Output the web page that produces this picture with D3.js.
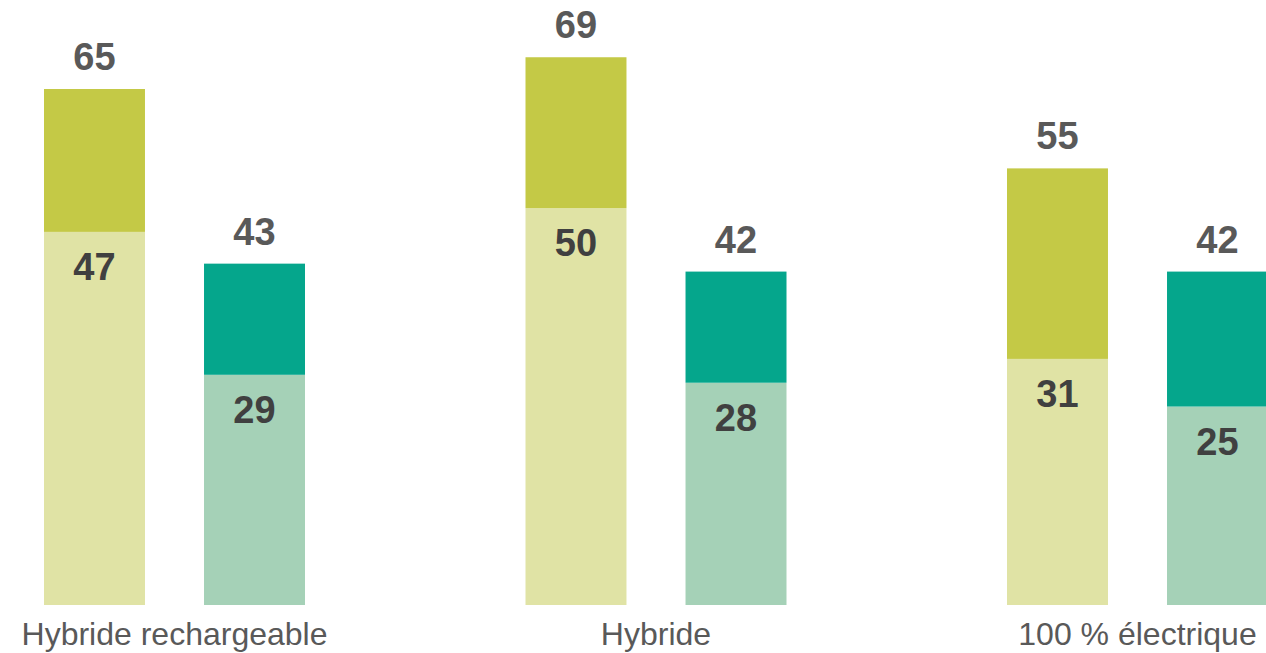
<!DOCTYPE html>
<html>
<head>
<meta charset="utf-8">
<script src="https://cdn.jsdelivr.net/npm/d3@7"></script>
<style>
  html, body { margin: 0; padding: 0; background: #fff; }
  svg { display: block; font-family: Arial, "Liberation Sans", sans-serif; }
</style>
</head>
<body>
<div id="chart"></div>
<script>
// categories and values
const categories = ["Hybride rechargeable", "Hybride", "100 % électrique"];
const series = ["olive", "teal"];
const oliveTotal = [65, 69, 55];
const oliveBase = [47, 50, 31];
const tealTotal = [43, 42, 42];
const tealBase = [29, 28, 25];

const colors = {
  olive: { top: "#c4c946", base: "#e0e3a5" },
  teal: { top: "#05a68c", base: "#a5d1b7" }
};

const W = 1266, H = 653;
const baseY = 605;

const svg = d3.select("#chart").append("svg")
  .attr("width", W)
  .attr("height", H);

// group scale: centers at ~174.5, 656, 1137.5
const x0 = d3.scaleBand()
  .domain(categories)
  .range([-66.25, 1378.25])
  .padding(0);

// bars inside group, relative to group center
const x1 = d3.scaleBand()
  .domain(series)
  .range([-130.5, 130.5])
  .paddingInner(0.369)
  .paddingOuter(0);

const y = d3.scaleLinear()
  .domain([0, 65])
  .range([baseY, 89]);

const rows = [];
categories.forEach((c, i) => {
  rows.push({ cat: c, s: "olive", total: oliveTotal[i], base: oliveBase[i] });
  rows.push({ cat: c, s: "teal", total: tealTotal[i], base: tealBase[i] });
});

const cx = d => x0(d.cat) + x0.bandwidth() / 2;
const bx = d => cx(d) + x1(d.s);

const g = svg.append("g");

// lower (light) part
g.selectAll("rect.base")
  .data(rows)
  .join("rect")
  .attr("class", "base")
  .attr("x", bx)
  .attr("width", x1.bandwidth())
  .attr("y", d => y(d.base))
  .attr("height", d => y(0) - y(d.base))
  .attr("fill", d => colors[d.s].base);

// upper (dark) part
g.selectAll("rect.top")
  .data(rows)
  .join("rect")
  .attr("class", "top")
  .attr("x", bx)
  .attr("width", x1.bandwidth())
  .attr("y", d => y(d.total))
  .attr("height", d => y(d.base) - y(d.total))
  .attr("fill", d => colors[d.s].top);

// total labels above bars
g.selectAll("text.total")
  .data(rows)
  .join("text")
  .attr("class", "total")
  .attr("x", d => bx(d) + x1.bandwidth() / 2)
  .attr("y", d => y(d.total) - 19)
  .attr("text-anchor", "middle")
  .style("font-size", "38px")
  .style("font-weight", "bold")
  .style("fill", "#595959")
  .text(d => d.total);

// base labels inside bars
g.selectAll("text.basev")
  .data(rows)
  .join("text")
  .attr("class", "basev")
  .attr("x", d => bx(d) + x1.bandwidth() / 2)
  .attr("y", d => y(d.base) + 48)
  .attr("text-anchor", "middle")
  .style("font-size", "38px")
  .style("font-weight", "bold")
  .style("fill", "#404040")
  .text(d => d.base);

// category labels
svg.append("g")
  .selectAll("text")
  .data(categories)
  .join("text")
  .attr("x", d => x0(d) + x0.bandwidth() / 2)
  .attr("y", 645)
  .attr("text-anchor", "middle")
  .style("font-size", "32px")
  .style("fill", "#595959")
  .text(d => d);
</script>
</body>
</html>
